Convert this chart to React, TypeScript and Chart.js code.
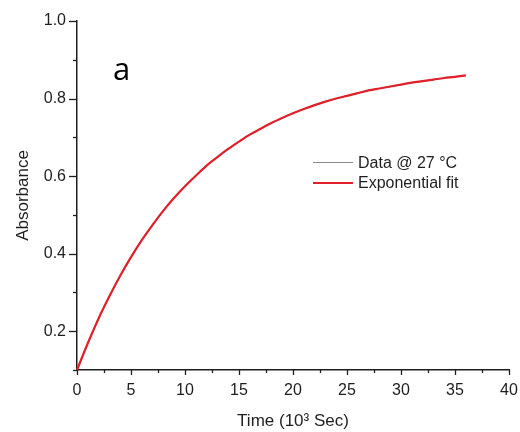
import React, { useEffect, useRef } from 'react';
import { Chart, registerables } from 'chart.js';

Chart.register(...registerables);

// Time in 10^3 s
const timeValues = [
  0, 1, 2, 3, 4, 5, 6, 7, 8, 9, 10, 11, 12, 13, 14, 15, 16, 17, 18,
  19, 20, 21, 22, 23, 24, 25, 26, 27, 28, 29, 30, 31, 32, 33, 34, 35, 36,
];

// Measured absorbance (grey, hidden under the fit)
const dataAbsorbance = [
  0.100, 0.169, 0.233, 0.290, 0.343, 0.391, 0.435, 0.474, 0.511, 0.544,
  0.574, 0.601, 0.627, 0.649, 0.670, 0.689, 0.707, 0.722, 0.737, 0.750,
  0.762, 0.773, 0.783, 0.792, 0.800, 0.807, 0.814, 0.821, 0.826, 0.831,
  0.836, 0.841, 0.845, 0.849, 0.853, 0.856, 0.860,
];

// Exponential fit (red)
const fitAbsorbance = [
  0.100, 0.169, 0.233, 0.290, 0.343, 0.391, 0.435, 0.474, 0.511, 0.544,
  0.574, 0.601, 0.627, 0.649, 0.670, 0.689, 0.707, 0.722, 0.737, 0.750,
  0.762, 0.773, 0.783, 0.792, 0.800, 0.807, 0.814, 0.821, 0.826, 0.831,
  0.836, 0.841, 0.845, 0.849, 0.853, 0.856, 0.860,
];

const xMajorTicks = [0, 5, 10, 15, 20, 25, 30, 35, 40];
const yMajorTicks = ['0.2', '0.4', '0.6', '0.8', '1.0'];

const seriesNames = ['Data @ 27 °C', 'Exponential fit'];
const seriesColors = ['#8c8c8c', '#e0202b'];
const panelLabel = 'a';
const xTitle = 'Time (10³ Sec)';
const yTitle = 'Absorbance';

const TEXT = '#1e1e1e';
const FONT = "'Liberation Sans', Arial, sans-serif";

const ticksAndLegend = {
  id: 'ticksAndLegend',
  afterDraw(chart: any) {
    const { ctx, chartArea, scales } = chart;
    const xs = scales.x;
    const ys = scales.y;
    ctx.save();
    ctx.strokeStyle = TEXT;
    ctx.lineWidth = 1.3;
    // y ticks (outward, left)
    ys.ticks.forEach((t: any) => {
      const py = Math.round(ys.getPixelForValue(t.value)) + 0.5;
      const major = t.label !== '' && t.label !== undefined;
      const len = major ? 8 : 4;
      ctx.beginPath();
      ctx.moveTo(chartArea.left, py);
      ctx.lineTo(chartArea.left - len, py);
      ctx.stroke();
    });
    // x ticks (outward, down)
    xs.ticks.forEach((t: any) => {
      const px = Math.round(xs.getPixelForValue(t.value)) + 0.5;
      const major = t.label !== '' && t.label !== undefined;
      const len = major ? 5 : 3;
      ctx.beginPath();
      ctx.moveTo(px, chartArea.bottom);
      ctx.lineTo(px, chartArea.bottom + len);
      ctx.stroke();
    });

    // legend
    const lx0 = chartArea.left + 236;
    const lx1 = lx0 + 40;
    const ly = [162.5, 183];
    ctx.font = `16px ${FONT}`;
    ctx.textBaseline = 'middle';
    ctx.textAlign = 'left';
    seriesNames.forEach((name, i) => {
      ctx.strokeStyle = seriesColors[i];
      ctx.lineWidth = i === 0 ? 1.2 : 2;
      ctx.beginPath();
      ctx.moveTo(lx0, ly[i]);
      ctx.lineTo(lx1, ly[i]);
      ctx.stroke();
      ctx.fillStyle = TEXT;
      ctx.fillText(name, lx1 + 5, Math.round(ly[i]) + 1);
    });

    // panel label
    ctx.font = "31px 'Open Sans', 'Noto Sans', sans-serif";
    ctx.fillStyle = '#000';
    ctx.textBaseline = 'alphabetic';
    ctx.fillText(panelLabel, chartArea.left + 36, 80);
    ctx.restore();
  },
};

export default function App() {
  const canvasRef = useRef<HTMLCanvasElement | null>(null);

  useEffect(() => {
    const canvas = canvasRef.current;
    if (!canvas) return;
    const chart = new Chart(canvas, {
      type: 'line',
      data: {
        datasets: [
          {
            label: seriesNames[0],
            data: timeValues.map((t, i) => ({ x: t, y: dataAbsorbance[i] })),
            borderColor: seriesColors[0],
            borderWidth: 1.2,
            pointRadius: 0,
            cubicInterpolationMode: 'monotone',
            clip: false,
            order: 1,
          },
          {
            label: seriesNames[1],
            data: timeValues.map((t, i) => ({ x: t, y: fitAbsorbance[i] })),
            borderColor: seriesColors[1],
            borderWidth: 2.2,
            pointRadius: 0,
            cubicInterpolationMode: 'monotone',
            clip: false,
            order: 0,
          },
        ],
      },
      options: {
        responsive: false,
        animation: false,
        layout: { padding: { top: 21, right: 11, left: 0, bottom: 0 } },
        plugins: {
          legend: { display: false },
          tooltip: { enabled: false },
        },
        scales: {
          x: {
            type: 'linear',
            min: 0,
            max: 40,
            afterFit: (s: any) => {
              s.height = 62;
              s.paddingLeft = 0;
              s.paddingRight = 0;
            },
            grid: { display: true, drawOnChartArea: false, drawTicks: false },
            border: { display: true, color: TEXT, width: 1.5 },
            ticks: {
              stepSize: 2.5,
              autoSkip: false,
              maxRotation: 0,
              padding: 11,
              color: TEXT,
              font: { family: FONT, size: 16 },
              callback: (v: any) => {
                const n = Number(v);
                return xMajorTicks.includes(n) ? String(n) : '';
              },
            },
            title: {
              display: true,
              text: xTitle,
              color: TEXT,
              font: { family: FONT, size: 17 },
              padding: { top: 0, bottom: 0 },
            },
          },
          y: {
            type: 'linear',
            min: 0.1,
            max: 1.0,
            afterFit: (s: any) => {
              s.width = 77;
            },
            grid: { display: true, drawOnChartArea: false, drawTicks: false },
            border: { display: true, color: TEXT, width: 1.5 },
            ticks: {
              stepSize: 0.1,
              autoSkip: false,
              padding: 11,
              color: TEXT,
              font: { family: FONT, size: 16 },
              callback: (v: any) => {
                const s = Number(v).toFixed(1);
                return yMajorTicks.includes(s) ? s : '';
              },
            },
            title: {
              display: true,
              text: yTitle,
              color: TEXT,
              font: { family: FONT, size: 17 },
              padding: { top: 13, bottom: 0 },
            },
          },
        },
      },
      plugins: [ticksAndLegend],
    });
    return () => chart.destroy();
  }, []);

  return (
    <div style={{ position: 'absolute', left: 0, top: 0, width: 520, height: 432, background: '#fff' }}>
      <canvas ref={canvasRef} width={520} height={432} />
    </div>
  );
}
